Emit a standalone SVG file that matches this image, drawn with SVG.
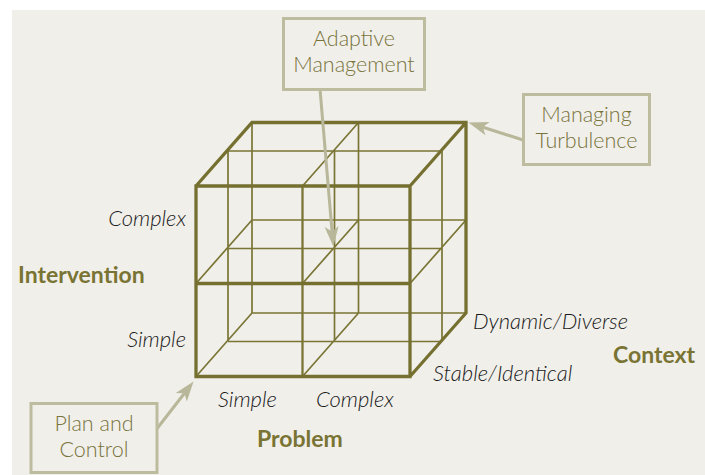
<svg xmlns="http://www.w3.org/2000/svg" width="705" height="475" viewBox="0 0 705 475">
  <style>
    .thin{fill:none;stroke:#7a7535;stroke-width:1.7}
    .thick{fill:none;stroke:#757030;stroke-width:3.3;stroke-linejoin:miter}
    .box{fill:#f0efea;stroke:#bdbc9f;stroke-width:3}
    .boxtxt{font-family:Lato,"Open Sans",sans-serif;font-size:21.5px;font-weight:300;fill:#78733a;text-anchor:middle}
    .lab{font-family:Lato,"Open Sans",sans-serif;font-size:22px;font-style:italic;font-weight:300;fill:#1a1a1a}
    .axis{font-family:Lato,"Open Sans",sans-serif;font-size:23px;font-weight:bold;fill:#7a7434}
    .arr{fill:none;stroke:#b8b79a;stroke-width:3}
  </style>
  <defs>
    <marker id="ah" markerUnits="userSpaceOnUse" viewBox="-10 -8 24 16" refX="0" refY="0" markerWidth="24" markerHeight="16" orient="auto">
      <path d="M12,0 L-8,-7 L-3,0 L-8,7 Z" fill="#b8b79a"/>
    </marker>
  </defs>
  <rect x="0" y="0" width="705" height="475" fill="#ffffff"/>
  <rect x="12" y="10" width="693" height="465" fill="#f0efea"/>

  <g id="cube">
    <path class="thin" d="M228,151H442 M228,248.5H442 M228,341.5H442 M252,220H466 M252,313H466 M228,151V341.5 M334.5,151V341.5 M442,151V341.5 M252,122.5V313 M358.5,122.5V313 M302.5,283.5l56,-63.5 M196,283.5l56,-63.5 M302.5,186l56,-63.5 M410,283.5l56,-63.5 M196,376.5l56,-63.5 M302.5,376.5l56,-63.5"/>
    <path class="thin" style="stroke-width:2.3" d="M302.5,186V376.5"/>
    <path class="thick" d="M196,186H410V376.5H196Z M196,283.5H410 M196,186L252,122.5H466V313L410,376.5 M410,186L466,122.5"/>
  </g>

  <g id="connectors">
    <line class="arr" x1="320" y1="89" x2="332.3" y2="234.5" marker-end="url(#ah)"/>
    <line class="arr" x1="523" y1="140" x2="479.9" y2="126.2" marker-end="url(#ah)"/>
    <line class="arr" x1="156.7" y1="429" x2="186.2" y2="391" marker-end="url(#ah)"/>
  </g>

  <g id="adaptive-management">
    <rect class="box" x="283.5" y="18.5" width="141" height="71"/>
    <text class="boxtxt" x="354" y="46">Adaptive</text>
    <text class="boxtxt" x="354" y="72">Management</text>
  </g>
  <g id="managing-turbulence">
    <rect class="box" x="523.5" y="94.5" width="126" height="70"/>
    <text class="boxtxt" x="586.5" y="122">Managing</text>
    <text class="boxtxt" x="586.5" y="148">Turbulence</text>
  </g>
  <g id="plan-and-control">
    <rect class="box" x="31" y="403.5" width="126" height="69"/>
    <text class="boxtxt" x="94" y="431">Plan and</text>
    <text class="boxtxt" x="94" y="457">Control</text>
  </g>

  <g id="intervention-axis">
    <text class="axis" x="18" y="283">Intervention</text>
    <text class="lab" x="186" y="226" text-anchor="end">Complex</text>
    <text class="lab" x="186" y="347" text-anchor="end">Simple</text>
  </g>
  <g id="problem-axis">
    <text class="lab" x="218" y="407">Simple</text>
    <text class="lab" x="316" y="407">Complex</text>
    <text class="axis" x="257" y="447">Problem</text>
  </g>
  <g id="context-axis">
    <text class="lab" x="473" y="329">Dynamic/Diverse</text>
    <text class="lab" x="433" y="381">Stable/Identical</text>
    <text class="axis" x="613" y="363">Context</text>
  </g>
</svg>
